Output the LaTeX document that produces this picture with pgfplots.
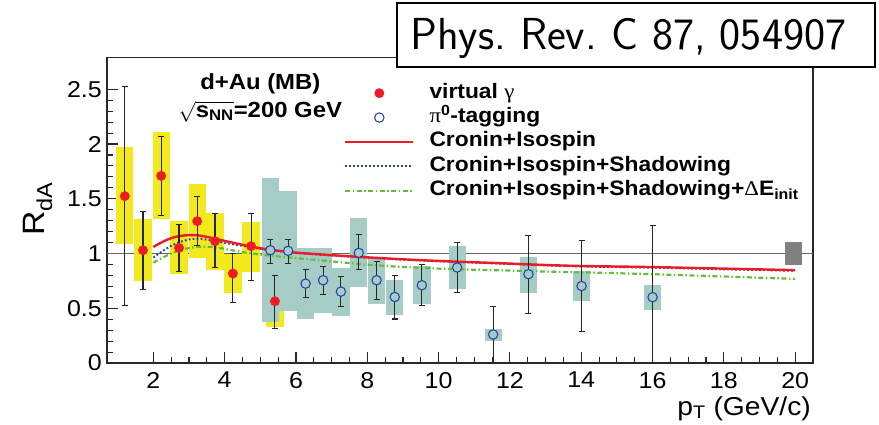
\documentclass[border=0pt]{standalone}
\usepackage{fontspec}
\usepackage{amsmath}
\usepackage{pgfplots}
\usepackage{pgfplotstable}
\pgfplotsset{compat=1.18}
\setmainfont{Liberation Sans}[FakeStretch=1.09]
\newfontfamily\grk{Liberation Serif}[FakeStretch=1.09]

\definecolor{vgred}{RGB}{237,28,36}
\definecolor{pizblue}{RGB}{40,70,170}
\definecolor{sysyellow}{RGB}{242,234,30}
\definecolor{systeal}{RGB}{166,204,198}
\definecolor{cigreen}{RGB}{100,190,60}
\definecolor{framegray}{RGB}{40,40,40}
\definecolor{refgray}{RGB}{100,100,100}

% virtual photon: x, R_dA, stat. upper/lower edge, syst. upper/lower edge
\pgfplotstableread{
x     y      ehi    elo    shi    slo
1.20  1.524  2.528  0.527  1.969  1.091
1.71  1.030  1.380  0.674  1.313  0.747
2.22  1.709  2.066  1.350  2.109  1.311
2.72  1.051  1.268  0.835  1.295  0.814
3.23  1.295  1.518  1.070  1.633  0.960
3.73  1.112  1.362  0.875  1.371  0.845
4.23  0.817  1.000  0.555  1.000  0.637
4.74  1.067  1.368  0.753  1.289  0.832
5.41  0.564  0.802  0.314  0.793  0.326
}\vgtab

% pi0 tagging: same layout
\pgfplotstableread{
x      y      ehi    elo    shi    slo
5.28   1.030  1.131  0.905  1.685  0.375
5.78   1.024  1.131  0.905  1.569  0.479
6.27   0.725  0.853  0.600  1.048  0.405
6.76   0.756  0.884  0.625  1.048  0.460
7.26   0.652  0.792  0.512  0.872  0.433
7.76   1.006  1.170  0.857  1.323  0.698
8.26   0.756  0.927  0.582  0.963  0.539
8.77   0.603  0.799  0.402  0.759  0.442
9.53   0.710  0.899  0.527  0.887  0.537
10.52  0.872  1.103  0.640  1.064  0.677
11.53  0.260  0.516  -0.05  0.314  0.205
12.52  0.811  1.164  0.451  0.972  0.640
14.01  0.703  1.120  0.285  0.838  0.565
16.00  0.601  1.256  -0.05  0.715  0.486
}\pztab

\pgfplotsset{
  markimg/.style={legend image code/.code={%
      \path[draw=none, fill=none] (0bp,0bp) -- (68bp,0bp);
      \draw[##1] plot coordinates {(34bp,0bp)};}},
  lineimg/.style={legend image code/.code={%
      \draw[##1] (0bp,0bp) -- (68bp,0bp);}},
  sysbox/.style={draw=none, mark=none, forget plot,
      error bars/.cd, y dir=both, y explicit, error mark=none,
      error bar style={draw=#1, line width=17.3bp}},
  staterr/.style={draw=none, mark=none, forget plot,
      error bars/.cd, y dir=both, y explicit,
      error bar style={draw=black!85, line width=1.1bp},
      error mark options={rotate=90, mark size=3bp, line width=1.1bp, draw=black!85}},
}

\begin{document}
\frenchspacing
\begin{tikzpicture}
\path[use as bounding box] (0,0) rectangle (879bp,425bp);
\begin{axis}[
  at={(107bp,62bp)}, anchor=south west,
  scale only axis, width=706bp, height=305.5bp,
  xmin=0.7, xmax=20.5, ymin=0, ymax=2.79,
  axis line style={line width=1.2bp, draw=framegray},
  tick pos=left, tick align=inside,
  xtick={2,4,...,20}, minor x tick num=3,
  ytick={0,0.5,1,1.5,2,2.5}, minor y tick num=4,
  major tick length=11bp, minor tick length=5.5bp,
  tick style={line width=1.1bp, draw=framegray},
  /pgf/number format/assume math mode=true,
  tick label style={font=\fontsize{23}{26}\selectfont},
  xticklabel style={inner sep=0pt, anchor=north, yshift=-9bp},
  yticklabel style={inner sep=0pt, anchor=east, xshift=-5bp},
  xlabel={p$_{\text{T}}$ (GeV/c)},
  xlabel style={at={(rel axis cs:1,0)}, anchor=base east, inner sep=0pt,
    yshift=-52bp, xshift=-2bp, font=\fontsize{26}{30}\selectfont},
  ylabel={R$_{\text{dA}}$},
  ylabel style={at={(rel axis cs:-0.088,0.504)}, anchor=base, inner sep=0pt,
    font=\fontsize{31}{36}\selectfont},
  legend style={at={(axis cs:7.35,2.56)}, anchor=north west, draw=none, fill=none,
    inner sep=0pt, outer sep=0pt, row sep=3.4bp, column sep=15bp,
    font=\bfseries\fontsize{21}{24}\selectfont,
    nodes={inner sep=0pt, text height=15.5bp, text depth=5.5bp},
    cells={anchor=west}},
  legend cell align=left,
]
% legend entries
\addlegendimage{only marks, mark=*, mark size=4.7bp, mark options={draw=vgred, fill=vgred}, markimg}
\addlegendentry{virtual {\grk\mdseries γ}}
\addlegendimage{only marks, mark=*, mark size=4.7bp, mark options={draw=pizblue, fill=white, line width=1.1bp}, markimg}
\addlegendentry{{\grk\mdseries π}\textsuperscript{0}-tagging}
\addlegendimage{vgred, line width=2.4bp, lineimg}
\addlegendentry{Cronin+Isospin}
\addlegendimage{pizblue, line width=2bp, dash pattern=on 1.8bp off 2.2bp, lineimg}
\addlegendentry{Cronin+Isospin+Shadowing}
\addlegendimage{cigreen, line width=2.2bp, dash pattern=on 5bp off 2.5bp on 1.5bp off 2.5bp, lineimg}
\addlegendentry{Cronin+Isospin+Shadowing+{\grk\mdseries Δ}E\textsubscript{init}}

% unity reference
\addplot[forget plot, draw=refgray, line width=1.2bp] coordinates {(0.7,1) (20.5,1)};

% systematic uncertainty boxes
\addplot[sysbox=sysyellow] table[x=x, y=y,
  y error plus expr=\thisrow{shi}-\thisrow{y},
  y error minus expr=\thisrow{y}-\thisrow{slo}] {\vgtab};
\addplot[sysbox=systeal] table[x=x, y=y,
  y error plus expr=\thisrow{shi}-\thisrow{y},
  y error minus expr=\thisrow{y}-\thisrow{slo}] {\pztab};
% global normalisation uncertainty
\addplot[sysbox=gray] coordinates {(19.95,1) +- (0,0.107)};

% model curves
\addplot[forget plot, smooth, cigreen, line width=2.2bp, dash pattern=on 5bp off 2.5bp on 1.5bp off 2.5bp] coordinates {
(2.0,0.916) (2.25,0.96) (2.5,1.0) (2.75,1.03) (3.0,1.05) (3.25,1.06) (3.5,1.062)
(3.75,1.055) (4.0,1.042) (4.5,1.013) (5.0,0.99) (6.0,0.958) (7.0,0.928) (8.0,0.898)
(9.0,0.877) (10.0,0.862) (11.0,0.852) (12.0,0.844) (13.0,0.835) (14.0,0.828)
(15.0,0.82) (16.0,0.811) (18.0,0.79) (20.0,0.768)};
\addplot[forget plot, smooth, pizblue, line width=2bp, dash pattern=on 1.8bp off 2.2bp] coordinates {
(2.0,0.963) (2.25,1.02) (2.5,1.07) (2.75,1.105) (3.0,1.128) (3.25,1.135) (3.5,1.127)
(3.75,1.112) (4.0,1.097) (4.5,1.07) (5.0,1.042) (5.5,1.022) (6.0,1.005) (7.0,0.982)
(8.0,0.962) (9.0,0.944) (10.0,0.929) (11.0,0.917) (12.0,0.905) (13.0,0.892)
(14.0,0.882) (16.0,0.871) (18.0,0.856) (20.0,0.842)};
\addplot[forget plot, smooth, vgred, line width=2.4bp] coordinates {
(2.0,1.06) (2.25,1.105) (2.5,1.14) (2.75,1.16) (3.0,1.168) (3.25,1.166) (3.5,1.152)
(3.75,1.135) (4.0,1.115) (4.5,1.08) (5.0,1.048) (5.5,1.025) (6.0,1.008) (7.0,0.985)
(8.0,0.965) (9.0,0.947) (10.0,0.932) (11.0,0.92) (12.0,0.908) (13.0,0.895)
(14.0,0.886) (16.0,0.876) (18.0,0.862) (20.0,0.848)};

% statistical error bars
\addplot[staterr] table[x=x, y=y,
  y error plus expr=\thisrow{ehi}-\thisrow{y},
  y error minus expr=\thisrow{y}-\thisrow{elo}] {\vgtab};
\addplot[staterr] table[x=x, y=y,
  y error plus expr=\thisrow{ehi}-\thisrow{y},
  y error minus expr=\thisrow{y}-\thisrow{elo}] {\pztab};

% data points
\addplot[forget plot, only marks, mark=*, mark size=4.7bp,
  mark options={draw=vgred, fill=vgred}] table[x=x, y=y] {\vgtab};
\addplot[forget plot, only marks, mark=*, mark size=4.7bp,
  mark options={draw=pizblue, fill=systeal, line width=1.1bp}] table[x=x, y=y] {\pztab};

% collision system
\node[anchor=base, inner sep=0pt, font=\bfseries\fontsize{22}{26}\selectfont] at (axis cs:5.0,2.497) {d+Au (MB)};
\node[anchor=base, inner sep=0pt, font=\bfseries\fontsize{22}{26}\selectfont] at (axis cs:5.0,2.243) {$\sqrt{\text{s}_{\text{NN}}}$=200 GeV};
\end{axis}
\node[draw=black, fill=white, line width=1.6bp, anchor=north west, minimum width=478bp,
  minimum height=64bp, inner sep=0pt, outer sep=0pt] at (397bp,422bp) {};
\node[anchor=base west, inner sep=0pt] at (410bp,375bp) {\sffamily\fontsize{45}{52}\selectfont Phys. Rev. C 87, 054907};
\end{tikzpicture}
\end{document}
